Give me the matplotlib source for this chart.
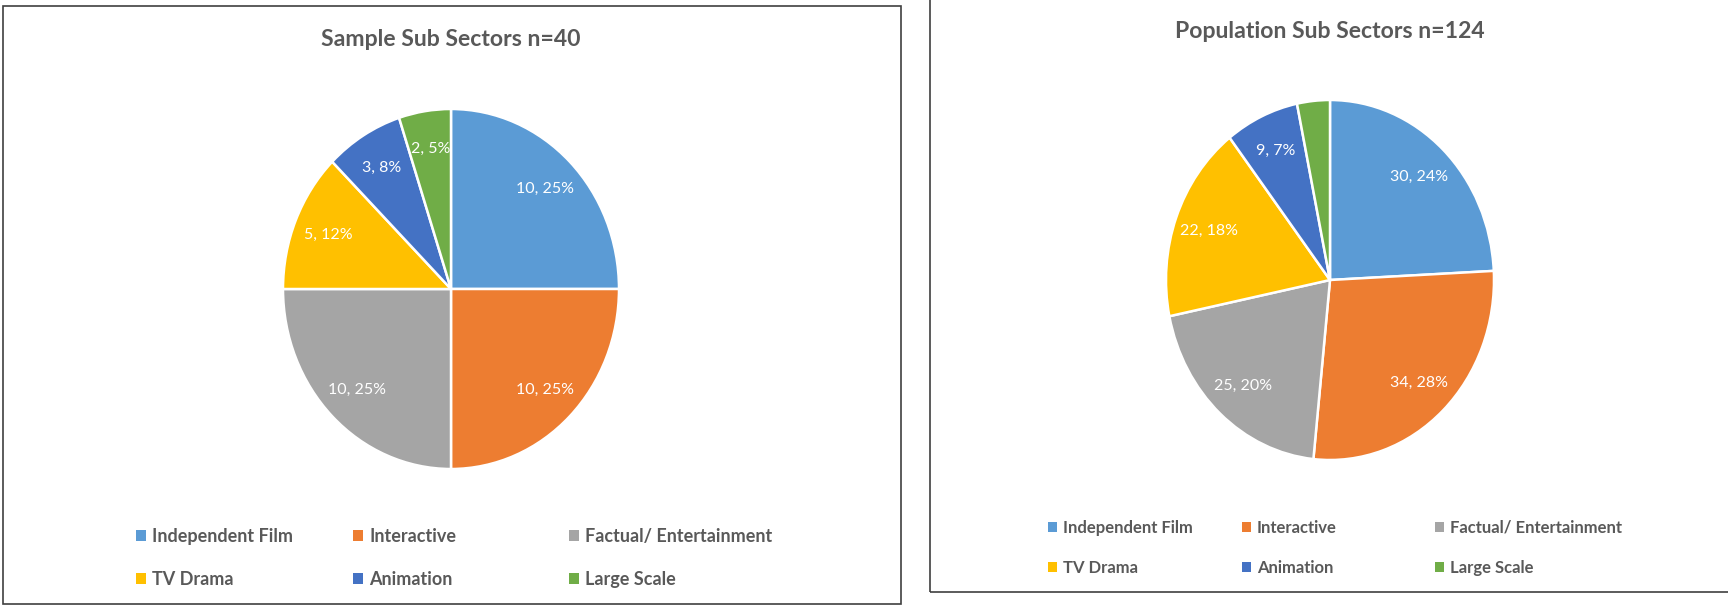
import matplotlib
matplotlib.use("Agg")
import matplotlib.pyplot as plt
from matplotlib.patches import Rectangle

# ---- data ----
categories = ["Independent Film", "Interactive", "Factual/ Entertainment",
              "TV Drama", "Animation", "Large Scale"]
sample_counts = [10, 10, 10, 5, 3, 2]
sample_labels = ["10, 25%", "10, 25%", "10, 25%", "5, 12%", "3, 8%", "2, 5%"]
population_counts = [30, 34, 25, 22, 9, 4]
population_labels = ["30, 24%", "34, 28%", "25, 20%", "22, 18%", "9, 7%", ""]
sample_title = "Sample Sub Sectors n=40"
population_title = "Population Sub Sectors n=124"

colors = ["#5B9BD5", "#ED7D31", "#A5A5A5", "#FFC000", "#4472C4", "#70AD47"]
TXT = "#595959"
FONT = ["Lato", "DejaVu Sans"]
plt.rcParams['font.family'] = FONT

W, H = 1728, 605
fig = plt.figure(figsize=(W / 100, H / 100), dpi=100)


def fx(px):
    return px / W


def fy(py):
    return 1 - py / H


# panel borders
fig.patches.append(Rectangle((fx(3), fy(604)), fx(898), (598) / H, transform=fig.transFigure,
                             fill=False, edgecolor="#404040", linewidth=1.2))
fig.patches.append(Rectangle((fx(930), fy(592)), fx(900), 700 / H, transform=fig.transFigure,
                             fill=False, edgecolor="#404040", linewidth=1.2))


def draw_panel(cx, cy, rx, ry, counts, labels, title, title_y, title_size,
               leg_cols_x, leg_rows_y, leg_size, lab_size):
    ax = fig.add_axes([fx(cx - rx), fy(cy + ry), 2 * rx / W, 2 * ry / H])
    wedges, texts = ax.pie(counts, labels=labels, colors=colors, startangle=90,
                           counterclock=False, labeldistance=0.79,
                           wedgeprops=dict(edgecolor="white", linewidth=1.8),
                           textprops=dict(color="white", fontsize=lab_size,
                                          ha="center", va="center"))
    for t in texts:
        t.set_horizontalalignment("center")
    ax.set_aspect("auto")
    ax.set_xlim(-1.0, 1.0)
    ax.set_ylim(-1.0, 1.0)
    ax.axis("off")
    fig.text(fx(cx), fy(title_y), title, ha="center", va="center",
             fontsize=title_size, fontweight="bold", color=TXT)
    for c in range(3):
        hs = [wedges[c], wedges[c + 3]]
        ls = [categories[c], categories[c + 3]]
        leg = fig.legend(hs, ls, loc="center left",
                         bbox_to_anchor=(fx(leg_cols_x[c]), fy((leg_rows_y[0] + leg_rows_y[1]) / 2)),
                         frameon=False, ncol=1, handlelength=0.55, handleheight=0.55,
                         handletextpad=0.35, labelspacing=(leg_rows_y[1] - leg_rows_y[0]) / (leg_size * 1.389) - 0.7,
                         borderpad=0, borderaxespad=0,
                         prop=dict(size=leg_size, weight="bold"))
        for t in leg.get_texts():
            t.set_color(TXT)
        for h in leg.legend_handles:
            h.set_edgecolor("none")


draw_panel(451, 289, 168, 180, sample_counts, sample_labels, sample_title, 39, 16.6,
           [136, 353, 569], [539, 577], 13, 11.5)
draw_panel(1330, 280, 164, 180, population_counts, population_labels, population_title, 31, 16.6,
           [1048, 1242, 1435], [530, 566], 12, 11.5)

fig.savefig("out.png", dpi=100, facecolor="white")
